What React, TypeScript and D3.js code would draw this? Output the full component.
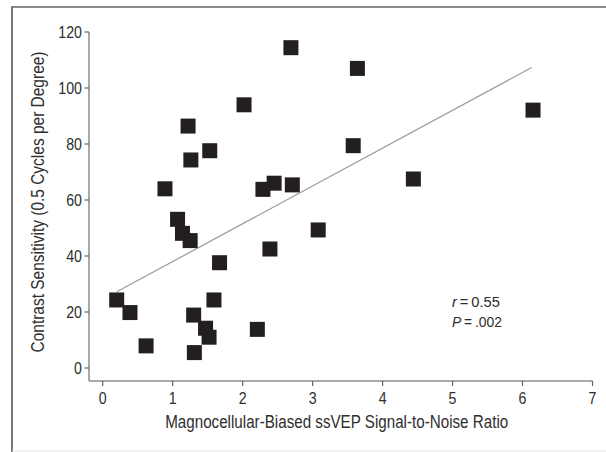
import React from "react";
import * as d3 from "d3";

const snrValues = [0.2, 0.39, 0.62, 0.89, 1.07, 1.14, 1.25, 1.22, 1.26, 1.3, 1.31, 1.47, 1.52, 1.53, 1.59, 1.67, 2.02, 2.21, 2.29, 2.39, 2.45, 2.69, 2.71, 3.08, 3.58, 3.64, 4.44, 6.15];
const sensitivityValues = [24.3, 19.8, 7.9, 64.0, 53.1, 48.1, 45.5, 86.4, 74.3, 18.9, 5.5, 14.2, 11.0, 77.6, 24.3, 37.6, 94.0, 13.8, 63.8, 42.5, 66.0, 114.4, 65.4, 49.3, 79.4, 107.0, 67.5, 92.1];
const fitX = [0.2, 6.13];
const fitY = [27.2, 107.3];
const xTicks = [0, 1, 2, 3, 4, 5, 6, 7];
const yTicks = [0, 20, 40, 60, 80, 100, 120];
const xTitle = "Magnocellular-Biased ssVEP Signal-to-Noise Ratio";
const yTitle = "Contrast Sensitivity (0.5 Cycles per Degree)";

const W = 606;
const H = 452;
const FONT = "'Liberation Sans', Arial, sans-serif";
const TXT = "#2e2e2e";

export default function App() {
  const x = d3.scaleLinear().domain([0, 7]).range([102.7, 592.5]);
  const y = d3.scaleLinear().domain([0, 120]).range([368, 32]);
  const axisY = 381;
  const axisX = 89;
  const sq = 15;
  const line = d3.line<number>().x((d, i) => x(fitX[i])).y((d, i) => y(fitY[i]));

  return (
    <svg width={W} height={H} style={{ position: "absolute", left: 0, top: 0, background: "#fff" }} fontFamily={FONT}>
      {/* frame */}
      <line x1={12} y1={7} x2={W} y2={7} stroke="#8a8a8a" strokeWidth={2} />
      <line x1={12} y1={6} x2={12} y2={H} stroke="#7a7a7a" strokeWidth={2} />
      <line x1={12} y1={451} x2={W} y2={451} stroke="#e4e4e4" strokeWidth={1} />

      {/* axes */}
      <line x1={axisX} y1={y(120)} x2={axisX} y2={axisY} stroke="#8c8c8c" strokeWidth={1.5} />
      <line x1={axisX} y1={axisY} x2={x(7)} y2={axisY} stroke="#8c8c8c" strokeWidth={1.5} />
      {yTicks.map((t) => (
        <g key={"y" + t}>
          <line x1={axisX - 4.5} x2={axisX} y1={y(t)} y2={y(t)} stroke="#666" strokeWidth={1.2} />
          <text transform={`translate(82,${y(t) + 5.8}) scale(0.86,1)`} textAnchor="end" fontSize={16.5} fill={TXT}>{t}</text>
        </g>
      ))}
      {xTicks.map((t) => (
        <g key={"x" + t}>
          <line x1={x(t)} x2={x(t)} y1={axisY} y2={axisY + 5} stroke="#666" strokeWidth={1.2} />
          <text transform={`translate(${x(t)},403.8) scale(0.86,1)`} textAnchor="middle" fontSize={16.5} fill={TXT}>{t}</text>
        </g>
      ))}

      {/* titles */}
      <text x={336.7} y={427.5} textAnchor="middle" fontSize={17.5} fill={TXT} textLength={343} lengthAdjust="spacingAndGlyphs">{xTitle}</text>
      <text transform={`translate(43.5,202) rotate(-90)`} textAnchor="middle" fontSize={17.5} fill={TXT} textLength={301} lengthAdjust="spacingAndGlyphs">{yTitle}</text>

      {/* regression line */}
      <path d={line(fitX) || ""} fill="none" stroke="#9a9a9a" strokeWidth={1.2} />

      {/* points */}
      {snrValues.map((v, i) => (
        <rect key={i} x={x(v) - sq / 2} y={y(sensitivityValues[i]) - sq / 2} width={sq} height={sq} fill="#231f20" />
      ))}

      {/* annotation */}
      <text x={452} y={307} fontSize={15.5} fill={TXT} textLength={48} lengthAdjust="spacingAndGlyphs">
        <tspan fontStyle="italic">r</tspan>
        <tspan>{"\u2009=\u20090.55"}</tspan>
      </text>
      <text x={452} y={327} fontSize={15.5} fill={TXT} textLength={50} lengthAdjust="spacingAndGlyphs">
        <tspan fontStyle="italic">P</tspan>
        <tspan>{"\u2009=\u2009.002"}</tspan>
      </text>
    </svg>
  );
}
